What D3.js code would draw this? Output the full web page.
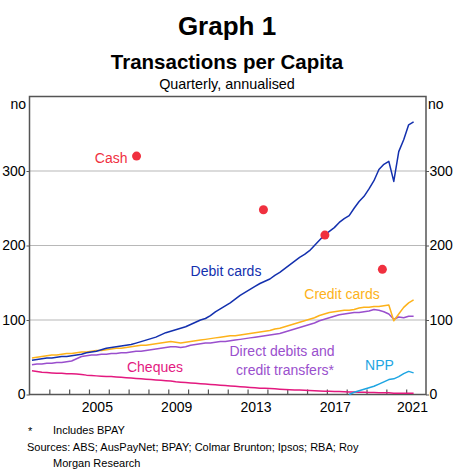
<!DOCTYPE html>
<html><head><meta charset="utf-8">
<script src="https://cdn.jsdelivr.net/npm/d3@7"></script>
<style>
html,body{margin:0;padding:0;background:#fff;}
svg{display:block;font-family:"Liberation Sans",Arial,Helvetica,sans-serif;}
</style></head>
<body>
<svg id="chart" width="454" height="473"></svg>
<script>
// ---- data (quarterly, 2002 Q1 .. 2021 Q2) ----
const startYear = 2002;
const nQuarters = 78;
const quarterDates = d3.range(nQuarters).map(i => startYear + i * 0.25 + 0.125);

const debitCards = [
  46,47,48,49, 49,50,51,51, 52,53,54,56, 57,58,60,62, 63,64,65,66,
  67,69,71,73, 75,77,80,83, 85,87,89,91, 94,97,100,102, 106,111,115,119,
  123,128,133,137, 141,145,149,152, 155,160,164,169, 174,179,184,188,
  193,200,207,214, 219,224,231,236, 240,250,259,266, 276,287,302,309,
  313,286,326,342, 362,366];
const creditCards = [
  49,50,51,52, 53,53,54,55, 55,56,57,57, 58,59,59,60, 61,62,62,63,
  64,65,66,66, 67,68,69,70, 71,70,69,70, 71,72,73,74, 75,76,77,78,
  79,79,80,81, 82,83,84,85, 86,88,89,91, 93,95,97,99, 101,103,106,108,
  110,111,112,113, 113,114,116,117, 117,118,118,119, 120,99,108,117, 123,127];
const directDebits = [
  40,41,41,42, 42,43,43,44, 45,48,51,52, 53,53,54,54, 55,55,56,56,
  57,58,58,59, 60,61,62,63, 64,64,63,64, 66,67,68,69, 69,70,71,71,
  72,73,74,75, 76,77,78,79, 80,81,82,84, 86,88,90,92, 94,96,99,101,
  103,105,107,108, 109,110,110,111, 112,114,113,111, 108,101,104,103, 105,105];
const cheques = [
  32,31,30,29.5, 29,28.5,28.5,28, 28,27.5,27,26, 25.5,25,24.5,24, 24,23.5,23,22.5,
  22,21.5,21,20.5, 20,19.5,19,18.5, 18,17,16.5,16, 15.5,15,14.5,14, 13.5,13,12.5,12,
  11.5,11,10.5,10, 9.5,9,8.5,8.3, 8,7.6,7.2,6.8, 6.5,6.2,6,5.7, 5.4,5.1,4.8,4.5,
  4.3,4.1,3.9,3.7, 3.5,3.3,3.1,2.9, 2.8,2.6,2.5,2.3, 2.2,1.7,1.8,1.8, 1.7,1.7];
// NPP from 2018 Q1
const nppDates = d3.range(14).map(i => 2018 + i * 0.25 + 0.125);
const npp = [0,3,5,7, 9,11,14,17, 20,21,24,28, 31,29];
// Cash (survey points)
const cashDates = [2007.4, 2013.8, 2016.9, 2019.8];
const cash = [320, 248, 214, 168];

const yTicks = [0, 100, 200, 300];
const xLabelYears = [2005, 2009, 2013, 2017, 2021];
const yDomain = [0, 400];
const xDomain = [2002, 2022];

// ---- layout ----
const svg = d3.select("#chart");
const L = 29.5, R = 426, T = 96.5, B = 394.5;
const x = d3.scaleLinear().domain(xDomain).range([L, R]);
const y = d3.scaleLinear().domain(yDomain).range([B, T]);
const font = '"Liberation Sans",Arial,Helvetica,sans-serif';

// titles
svg.append("text").attr("x", 227).attr("y", 35).attr("text-anchor", "middle")
  .attr("font-size", 26).attr("font-weight", "bold").text("Graph 1");
svg.append("text").attr("x", 227).attr("y", 69).attr("text-anchor", "middle")
  .attr("font-size", 20.5).attr("font-weight", "bold").text("Transactions per Capita");
svg.append("text").attr("x", 227).attr("y", 89).attr("text-anchor", "middle")
  .attr("font-size", 14.4).text("Quarterly, annualised");

// gridlines
svg.append("g").selectAll("line").data(yTicks.filter(d => d > 0)).join("line")
  .attr("x1", L).attr("x2", R).attr("y1", d => y(d)).attr("y2", d => y(d))
  .attr("stroke", "#b8b8b8").attr("stroke-width", 1.2);

// y axes
const yLeft = d3.axisLeft(y).tickValues(yTicks).tickSize(3).tickFormat(d3.format("d"));
const yRight = d3.axisRight(y).tickValues(yTicks).tickSize(3).tickFormat(d3.format("d"));
const gl = svg.append("g").attr("transform", `translate(${L},0)`).call(yLeft);
const gr = svg.append("g").attr("transform", `translate(${R},0)`).call(yRight);
[gl, gr].forEach(g => {
  g.select(".domain").remove();
  g.selectAll("line").attr("stroke", "#555");
  g.selectAll("text").attr("font-size", 14).attr("fill", "#000").attr("font-family", font);
});
gl.selectAll("text").attr("x", -4);
gr.selectAll("text").attr("x", 3.5);

// unit labels
svg.append("text").attr("x", 26).attr("y", 109).attr("text-anchor", "end")
  .attr("font-size", 14).text("no");
svg.append("text").attr("x", 428).attr("y", 109).attr("text-anchor", "start")
  .attr("font-size", 14).text("no");

// x axis ticks (inside) + labels
const xAxis = d3.axisBottom(x).tickValues(d3.range(2003, 2022)).tickSizeInner(-5).tickSizeOuter(0).tickFormat("");
const gx = svg.append("g").attr("transform", `translate(0,${B})`).call(xAxis);
gx.select(".domain").remove();
gx.selectAll("line").attr("stroke", "#555").attr("stroke-width", 1.2);
svg.append("g").selectAll("text").data(xLabelYears).join("text")
  .attr("x", d => x(d + 0.5) - (d === 2021 ? 3.5 : 1.5)).attr("y", 411.5).attr("text-anchor", "middle")
  .attr("font-size", 14).text(d => d);

// frame
svg.append("rect").attr("x", L).attr("y", T).attr("width", R - L).attr("height", B - T)
  .attr("fill", "none").attr("stroke", "#555").attr("stroke-width", 1.5);

// lines
const line = d3.line().x(d => x(d[0])).y(d => y(d[1]));
const series = [
  {vals: cheques, dates: quarterDates, color: "#e3197f"},
  {vals: directDebits, dates: quarterDates, color: "#9a4fcd"},
  {vals: creditCards, dates: quarterDates, color: "#fdb21a"},
  {vals: npp, dates: nppDates, color: "#1ea5e2"},
  {vals: debitCards, dates: quarterDates, color: "#1330ae"}
];
series.forEach(s => {
  svg.append("path").datum(s.dates.map((d, i) => [d, s.vals[i]]))
    .attr("d", line).attr("fill", "none").attr("stroke", s.color)
    .attr("stroke-width", 1.5).attr("stroke-linejoin", "round");
});

// cash dots
svg.append("g").selectAll("circle").data(cashDates.map((d, i) => [d, cash[i]])).join("circle")
  .attr("cx", d => x(d[0])).attr("cy", d => y(d[1])).attr("r", 4.5).attr("fill", "#f0303f");

// annotations
const ann = [
  {t: "Cash", x: 127.5, y: 162.5, a: "end", c: "#f0303f"},
  {t: "Debit cards", x: 226, y: 276, a: "middle", c: "#1330ae"},
  {t: "Credit cards", x: 342, y: 298.5, a: "middle", c: "#fdb21a"},
  {t: "Direct debits and", x: 282, y: 356, a: "middle", c: "#9a4fcd"},
  {t: "credit transfers*", x: 285, y: 375, a: "middle", c: "#9a4fcd"},
  {t: "Cheques", x: 155, y: 371.5, a: "middle", c: "#e3197f"},
  {t: "NPP", x: 379.5, y: 370, a: "middle", c: "#1ea5e2"}
];
svg.append("g").selectAll("text").data(ann).join("text")
  .attr("x", d => d.x).attr("y", d => d.y).attr("text-anchor", d => d.a)
  .attr("fill", d => d.c).attr("font-size", 14).text(d => d.t);

// footnotes
svg.append("text").attr("x", 28).attr("y", 435).attr("font-size", 11).text("*");
svg.append("text").attr("x", 53).attr("y", 434).attr("font-size", 11).text("Includes BPAY");
svg.append("text").attr("x", 27).attr("y", 451).attr("font-size", 11)
  .text("Sources: ABS; AusPayNet; BPAY; Colmar Brunton; Ipsos; RBA; Roy");
svg.append("text").attr("x", 53).attr("y", 467).attr("font-size", 11).text("Morgan Research");
</script>
</body></html>
